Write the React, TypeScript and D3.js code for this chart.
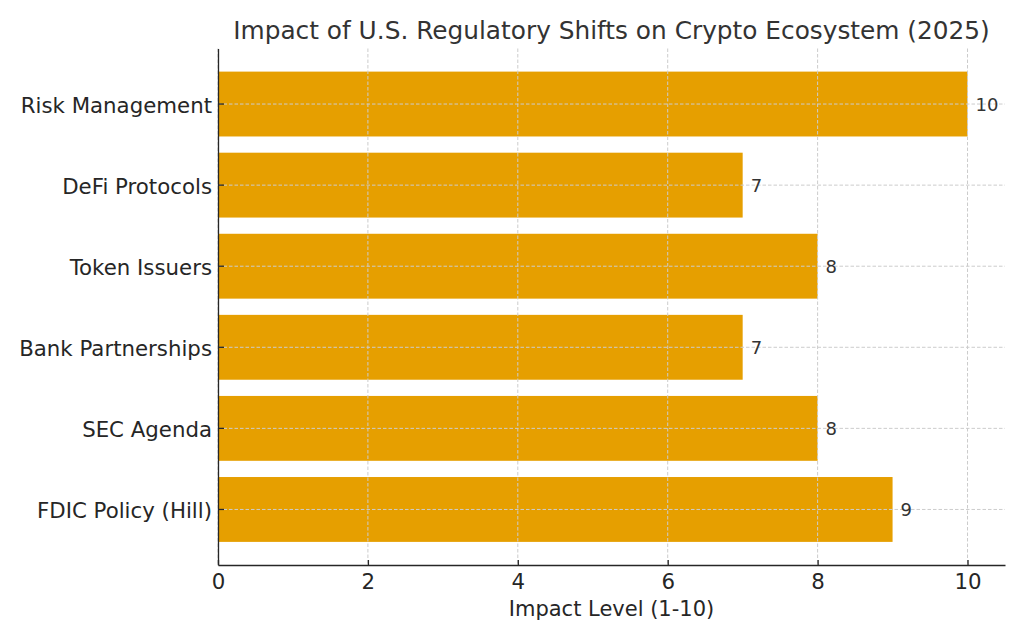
import { useEffect, useRef } from "react"
import * as d3 from "d3"

const categories = [
  "Risk Management",
  "DeFi Protocols",
  "Token Issuers",
  "Bank Partnerships",
  "SEC Agenda",
  "FDIC Policy (Hill)",
]
const impact = [10, 7, 8, 7, 8, 9]
const xTicks = [0, 2, 4, 6, 8, 10]

const title = "Impact of U.S. Regulatory Shifts on Crypto Ecosystem (2025)"
const xLabel = "Impact Level (1-10)"

export default function App() {
  const svgRef = useRef<SVGSVGElement>(null)

  useEffect(() => {
    if (!svgRef.current) return
    const svg = d3.select(svgRef.current)
    svg.selectAll("*").remove()

    const font = "DejaVu Sans, sans-serif"
    const left = 218
    const right = 1005
    const top = 48.5
    const bottom = 565

    const x = d3.scaleLinear().domain([0, 10.5]).range([left, right])
    const y = d3
      .scaleBand<string>()
      .domain(categories)
      .range([top, bottom])
      .paddingInner(0.2)
      .paddingOuter(0.285)

    const data = categories.map((c, i) => ({ name: c, value: impact[i] }))

    // Bars
    svg
      .append("g")
      .selectAll("rect")
      .data(data)
      .join("rect")
      .attr("x", x(0))
      .attr("y", (d) => y(d.name)!)
      .attr("width", (d) => x(d.value) - x(0))
      .attr("height", y.bandwidth())
      .attr("fill", "#E69F00")

    // Grid (drawn over the bars)
    const grid = svg.append("g").attr("stroke", "#cccccc").attr("stroke-width", 1).attr("stroke-dasharray", "3.5,2")
    xTicks.forEach((t) => {
      grid.append("line").attr("x1", x(t)).attr("x2", x(t)).attr("y1", top).attr("y2", bottom)
    })
    categories.forEach((c) => {
      const cy = y(c)! + y.bandwidth() / 2
      grid.append("line").attr("x1", left).attr("x2", right).attr("y1", cy).attr("y2", cy)
    })

    // Value labels
    svg
      .append("g")
      .selectAll("text")
      .data(data)
      .join("text")
      .attr("x", (d) => x(d.value) + 8)
      .attr("y", (d) => y(d.name)! + y.bandwidth() / 2)
      .attr("dy", "0.36em")
      .attr("fill", "#333333")
      .style("font-family", font)
      .style("font-size", "18px")
      .text((d) => d.value)

    // X axis
    const xAxis = svg
      .append("g")
      .attr("transform", `translate(0,${bottom})`)
      .call(
        d3
          .axisBottom(x)
          .tickValues(xTicks)
          .tickSizeInner(-5)
          .tickSizeOuter(0)
          .tickPadding(9)
      )
    xAxis.select(".domain").attr("stroke", "#262626").attr("stroke-width", 1.3)
    xAxis.selectAll(".tick line").attr("stroke", "#262626").attr("stroke-width", 1.3)
    xAxis
      .selectAll(".tick text")
      .attr("fill", "#262626")
      .style("font-family", font)
      .style("font-size", "21.3px")

    // Y axis
    const yAxis = svg
      .append("g")
      .attr("transform", `translate(${left},0)`)
      .call(d3.axisLeft(y).tickSizeInner(-6).tickSizeOuter(0).tickPadding(6))
    yAxis.select(".domain").attr("stroke", "#262626").attr("stroke-width", 1.3)
    yAxis.selectAll(".tick line").attr("stroke", "#262626").attr("stroke-width", 1.3)
    yAxis
      .selectAll(".tick text")
      .attr("fill", "#262626")
      .attr("dy", "0.42em")
      .style("font-family", font)
      .style("font-size", "21.3px")

    // Title
    svg
      .append("text")
      .attr("x", (left + right) / 2)
      .attr("y", 39)
      .attr("text-anchor", "middle")
      .attr("fill", "#333333")
      .style("font-family", font)
      .style("font-size", "24.8px")
      .text(title)

    // X label
    svg
      .append("text")
      .attr("x", (left + right) / 2)
      .attr("y", 616)
      .attr("text-anchor", "middle")
      .attr("fill", "#262626")
      .style("font-family", font)
      .style("font-size", "21px")
      .text(xLabel)
  }, [])

  return (
    <svg
      ref={svgRef}
      width={1024}
      height={640}
      style={{ position: "absolute", left: 0, top: 0, background: "#ffffff" }}
    />
  )
}
